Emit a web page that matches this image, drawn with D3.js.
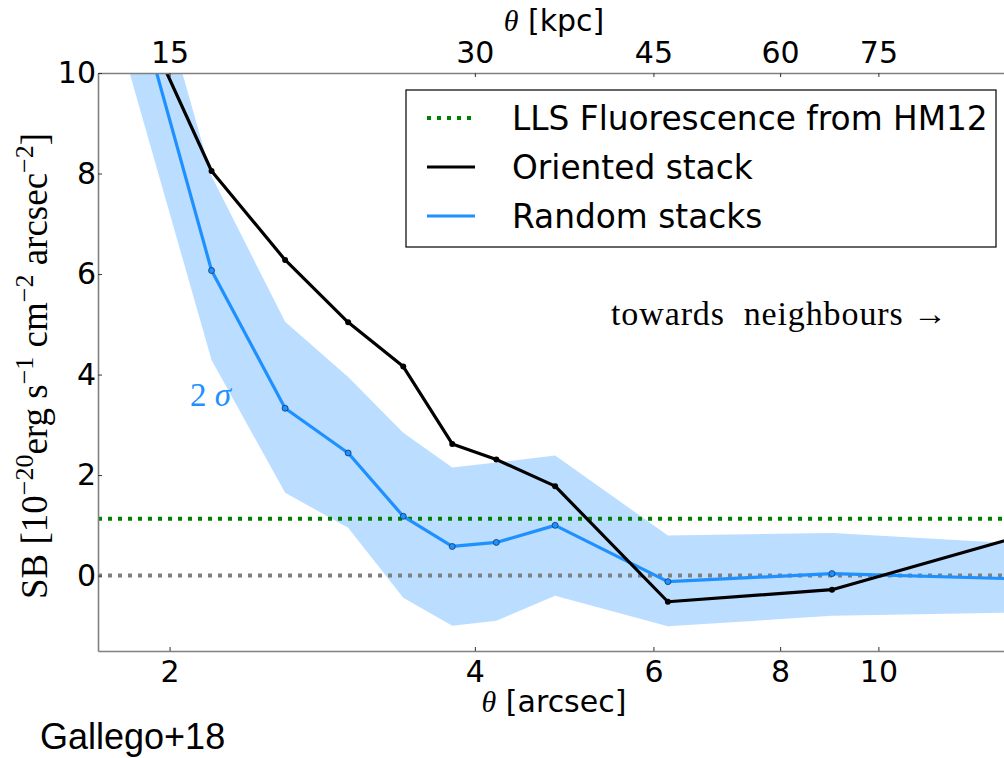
<!DOCTYPE html>
<html>
<head>
<meta charset="utf-8">
<script src="https://cdn.jsdelivr.net/npm/d3@7"></script>
<style>
  body { margin: 0; background: #fff; }
  svg { display: block; }
</style>
</head>
<body>
<svg id="chart" width="1004" height="758"></svg>
<script>
// Angular separation bins (arcsec) and stacked surface brightness (1e-20 erg/s/cm2/arcsec2)
const thetaArcsec = [1.8, 2.2, 2.6, 3.0, 3.4, 3.8, 4.2, 4.8, 6.2, 9.0, 14.0];
const orientedSB  = [11.9, 8.05, 6.28, 5.04, 4.16, 2.62, 2.31, 1.78, -0.52, -0.28, 0.82];
const randomSB    = [12.4, 6.07, 3.33, 2.44, 1.18, 0.58, 0.66, 1.00, -0.12, 0.04, -0.07];
const randomUpper = [14.15, 7.95, 5.05, 3.95, 2.84, 2.15, 2.25, 2.39, 0.80, 0.85, 0.63];
const randomLower = [10.45, 4.29, 1.65, 0.95, -0.44, -1.00, -0.90, -0.40, -1.01, -0.80, -0.73];
const llsLevel = 1.13;           // HM12 LLS fluorescence expectation
const zeroLevel = 0;
const xTickValues = [2, 4, 6, 8, 10];
const yTickValues = [0, 2, 4, 6, 8, 10];
const kpcTickValues = [15, 30, 45, 60, 75];
const kpcPerArcsec = 7.5;
const legendLabels = ["LLS Fluorescence from HM12", "Oriented stack", "Random stacks"];

const svg = d3.select("#chart");
const plot = { left: 98, right: 1004, top: 73, bottom: 651 };

const x = d3.scaleLog().domain([1.7, 13.3]).range([plot.left, plot.right]);
const xTop = d3.scaleLog()
  .domain([1.7 * kpcPerArcsec, 13.3 * kpcPerArcsec])
  .range([plot.left, plot.right]);
const y = d3.scaleLinear().domain([-1.5, 10]).range([plot.bottom, plot.top]);

const sansFont = "DejaVu Sans, sans-serif";
const serifFont = "Liberation Serif, DejaVu Serif, serif";
const blue = "#1e90ff";

svg.append("defs").append("clipPath").attr("id", "plot-clip")
  .append("rect")
  .attr("x", plot.left).attr("y", plot.top)
  .attr("width", plot.right - plot.left).attr("height", plot.bottom - plot.top);

const data = thetaArcsec.map((t, i) => ({
  t, oriented: orientedSB[i], random: randomSB[i], hi: randomUpper[i], lo: randomLower[i]
}));

const g = svg.append("g").attr("clip-path", "url(#plot-clip)");

// 2-sigma envelope of the random stacks
g.append("path")
  .datum(data)
  .attr("d", d3.area().x(d => x(d.t)).y0(d => y(d.lo)).y1(d => y(d.hi)))
  .attr("fill", blue).attr("fill-opacity", 0.3);

// Reference levels
[[zeroLevel, "#808080"], [llsLevel, "#008000"]].forEach(([v, c]) => {
  g.append("line")
    .attr("x1", plot.left).attr("x2", plot.right)
    .attr("y1", y(v)).attr("y2", y(v))
    .attr("stroke", c).attr("stroke-width", 4).attr("stroke-dasharray", "4,6");
});

// Random stacks
g.append("path").datum(data)
  .attr("d", d3.line().x(d => x(d.t)).y(d => y(d.random)))
  .attr("fill", "none").attr("stroke", blue).attr("stroke-width", 3.2)
  .attr("stroke-linejoin", "round");
g.selectAll("circle.rnd").data(data).join("circle").attr("class", "rnd")
  .attr("cx", d => x(d.t)).attr("cy", d => y(d.random)).attr("r", 3)
  .attr("fill", blue).attr("stroke", "#0b3a66").attr("stroke-width", 0.8);

// Oriented stack
g.append("path").datum(data)
  .attr("d", d3.line().x(d => x(d.t)).y(d => y(d.oriented)))
  .attr("fill", "none").attr("stroke", "#000").attr("stroke-width", 3.2)
  .attr("stroke-linejoin", "round");
g.selectAll("circle.ori").data(data).join("circle").attr("class", "ori")
  .attr("cx", d => x(d.t)).attr("cy", d => y(d.oriented)).attr("r", 3)
  .attr("fill", "#000");

// Axes
function styleAxis(sel) {
  sel.select(".domain").attr("stroke", "#808080").attr("stroke-width", 1.6);
  sel.selectAll(".tick line").attr("stroke", "#333").attr("stroke-width", 1);
  sel.selectAll(".tick text").attr("font-family", sansFont).attr("font-size", 30).attr("fill", "#000");
}

svg.append("g").attr("transform", `translate(0,${plot.bottom})`)
  .call(d3.axisBottom(x).tickValues(xTickValues).tickFormat(d3.format("d"))
    .tickSizeInner(-4).tickSizeOuter(0).tickPadding(10))
  .call(styleAxis);

svg.append("g").attr("transform", `translate(0,${plot.top})`)
  .call(d3.axisTop(xTop).tickValues(kpcTickValues).tickFormat(d3.format("d"))
    .tickSizeInner(-4).tickSizeOuter(0).tickPadding(10))
  .call(styleAxis);

svg.append("g").attr("transform", `translate(${plot.left},0)`)
  .call(d3.axisLeft(y).tickValues(yTickValues).tickFormat(d3.format("d"))
    .tickSizeInner(-4).tickSizeOuter(0).tickPadding(2))
  .call(styleAxis);

// Axis titles
function thetaLabel(xc, yb, unit) {
  const t = svg.append("text").attr("x", xc).attr("y", yb)
    .attr("text-anchor", "middle").attr("font-size", 30).attr("fill", "#000");
  t.append("tspan").attr("font-family", serifFont).attr("font-style", "italic").text("θ");
  t.append("tspan").attr("font-family", sansFont).text(" [" + unit + "]");
}
thetaLabel(554, 31, "kpc");
thetaLabel(554, 712, "arcsec");

// Y-axis title with superscripts
const yl = svg.append("text")
  .attr("transform", "translate(47,366) rotate(-90)")
  .attr("text-anchor", "middle")
  .attr("font-family", serifFont).attr("font-size", 37).attr("fill", "#000");
const sup = 14;
yl.append("tspan").text("SB [10");
yl.append("tspan").attr("font-size", 26).attr("dy", -sup).text("−20");
yl.append("tspan").attr("dy", sup).text("erg s");
yl.append("tspan").attr("font-size", 26).attr("dy", -sup).text("−1");
yl.append("tspan").attr("dy", sup).text(" cm");
yl.append("tspan").attr("font-size", 26).attr("dy", -sup).text("−2");
yl.append("tspan").attr("dy", sup).text(" arcsec");
yl.append("tspan").attr("font-size", 26).attr("dy", -sup).text("−2");
yl.append("tspan").attr("dy", sup).text("]");

// Annotations
svg.append("text").attr("x", 611).attr("y", 325)
  .attr("font-family", serifFont).attr("font-size", 34).attr("fill", "#000")
  .attr("xml:space", "preserve")
  .attr("textLength", 336).attr("lengthAdjust", "spacing")
  .text("towards  neighbours →");

const sig = svg.append("text").attr("x", 190).attr("y", 406)
  .attr("font-family", serifFont).attr("font-size", 33).attr("fill", blue);
sig.append("tspan").text("2 ");
sig.append("tspan").attr("font-style", "italic").text("σ");

svg.append("text").attr("x", 40).attr("y", 749)
  .attr("font-family", "Liberation Sans, Arial, sans-serif").attr("font-size", 36).attr("fill", "#000")
  .text("Gallego+18");

// Legend
const lg = svg.append("g");
lg.append("rect").attr("x", 406).attr("y", 90).attr("width", 590).attr("height", 157)
  .attr("fill", "#fff").attr("stroke", "#000").attr("stroke-width", 1.2);
const legendStyles = [
  { color: "#008000", dash: "4,6", width: 4 },
  { color: "#000", dash: null, width: 3.2 },
  { color: blue, dash: null, width: 3.2 }
];
const rowY = [118, 167, 216];
legendLabels.forEach((label, i) => {
  const s = legendStyles[i];
  lg.append("line").attr("x1", 427).attr("x2", 475).attr("y1", rowY[i]).attr("y2", rowY[i])
    .attr("stroke", s.color).attr("stroke-width", s.width)
    .attr("stroke-dasharray", s.dash);
  lg.append("text").attr("x", 512).attr("y", rowY[i]).attr("dy", "0.36em")
    .attr("font-family", sansFont).attr("font-size", 32.8).attr("fill", "#000")
    .text(label);
});
</script>
</body>
</html>
